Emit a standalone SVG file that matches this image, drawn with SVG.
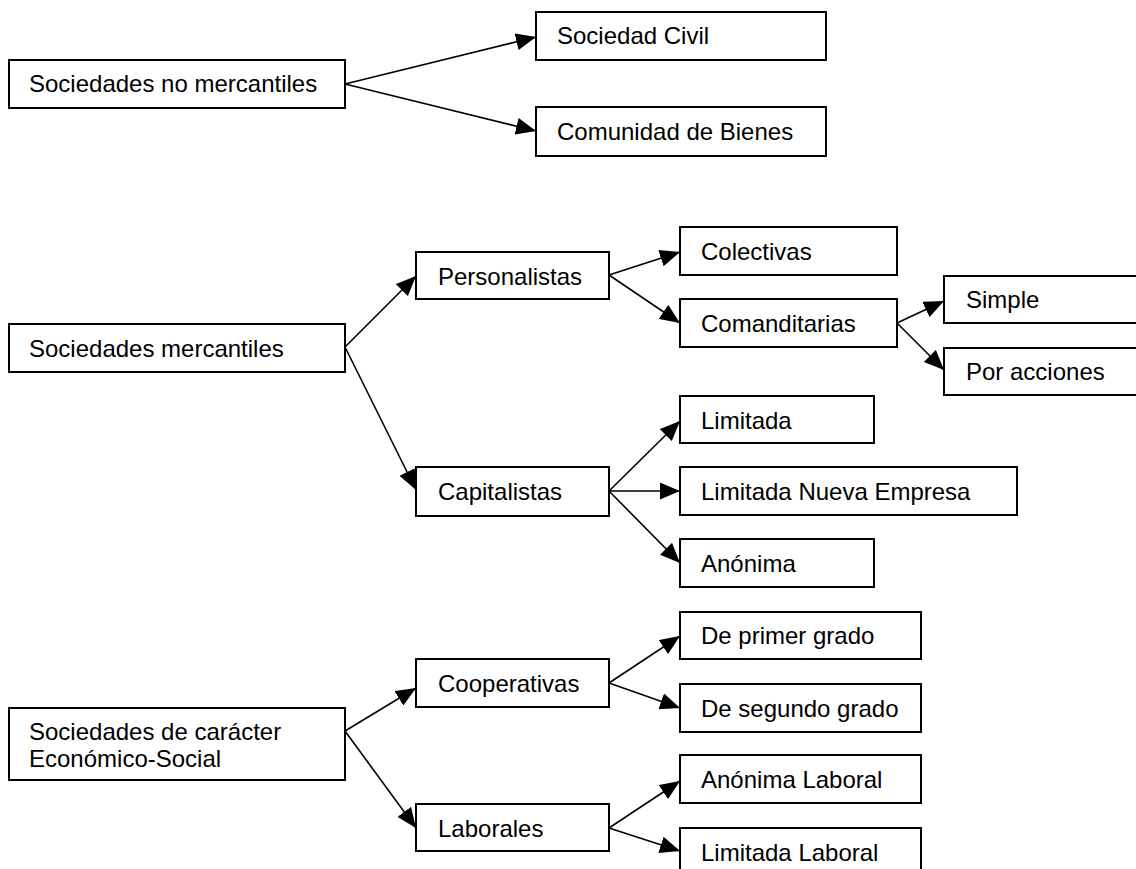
<svg xmlns="http://www.w3.org/2000/svg" width="1136" height="869" viewBox="0 0 1136 869">
<style>
.box{fill:#fff;stroke:#000;stroke-width:2}
.lbl{font-family:"Liberation Sans",Arial,sans-serif;font-size:24px;fill:#000}
.con{stroke:#000;stroke-width:1.6;fill:none;marker-end:url(#ah)}
</style>
<defs>
<marker id="ah" markerUnits="userSpaceOnUse" markerWidth="20" markerHeight="17" refX="20" refY="8.5" orient="auto">
<path d="M0,0 L20,8.5 L0,17 Z" fill="#000"/>
</marker>
</defs>
<rect width="1136" height="869" fill="#fff"/>
<g id="connectors">
<line class="con" x1="345" y1="84" x2="536" y2="37"/>
<line class="con" x1="345" y1="84" x2="536" y2="131"/>
<line class="con" x1="345" y1="347" x2="416" y2="276"/>
<line class="con" x1="345" y1="347" x2="416" y2="490"/>
<line class="con" x1="609" y1="275" x2="680" y2="252"/>
<line class="con" x1="609" y1="275" x2="680" y2="323"/>
<line class="con" x1="897" y1="323" x2="944" y2="301"/>
<line class="con" x1="897" y1="323" x2="944" y2="370"/>
<line class="con" x1="609" y1="491" x2="680" y2="421"/>
<line class="con" x1="609" y1="491" x2="680" y2="491"/>
<line class="con" x1="609" y1="491" x2="680" y2="563"/>
<line class="con" x1="345" y1="731" x2="416" y2="688"/>
<line class="con" x1="345" y1="731" x2="416" y2="828"/>
<line class="con" x1="609" y1="683" x2="680" y2="636"/>
<line class="con" x1="609" y1="683" x2="680" y2="708"/>
<line class="con" x1="609" y1="828" x2="680" y2="781"/>
<line class="con" x1="609" y1="828" x2="680" y2="851"/>
</g>
<g id="n-no-mercantiles"><rect class="box" x="9" y="60" width="336" height="48"/><text class="lbl" x="29" y="92">Sociedades no mercantiles</text></g>
<g id="n-civil"><rect class="box" x="536" y="12" width="290" height="48"/><text class="lbl" x="557" y="44">Sociedad Civil</text></g>
<g id="n-bienes"><rect class="box" x="536" y="107" width="290" height="49"/><text class="lbl" x="557" y="140">Comunidad de Bienes</text></g>
<g id="n-mercantiles"><rect class="box" x="9" y="324" width="336" height="48"/><text class="lbl" x="29" y="357">Sociedades mercantiles</text></g>
<g id="n-personalistas"><rect class="box" x="416" y="252" width="193" height="47"/><text class="lbl" x="438" y="285">Personalistas</text></g>
<g id="n-colectivas"><rect class="box" x="680" y="227" width="217" height="48"/><text class="lbl" x="701" y="260">Colectivas</text></g>
<g id="n-comanditarias"><rect class="box" x="680" y="299" width="217" height="48"/><text class="lbl" x="701" y="332">Comanditarias</text></g>
<g id="n-simple"><rect class="box" x="944" y="276" width="200" height="47"/><text class="lbl" x="966" y="308">Simple</text></g>
<g id="n-por-acciones"><rect class="box" x="944" y="348" width="200" height="47"/><text class="lbl" x="966" y="380">Por acciones</text></g>
<g id="n-capitalistas"><rect class="box" x="416" y="467" width="193" height="49"/><text class="lbl" x="438" y="500">Capitalistas</text></g>
<g id="n-limitada"><rect class="box" x="680" y="396" width="194" height="47"/><text class="lbl" x="701" y="429">Limitada</text></g>
<g id="n-lne"><rect class="box" x="680" y="467" width="337" height="48"/><text class="lbl" x="701" y="500">Limitada Nueva Empresa</text></g>
<g id="n-anonima"><rect class="box" x="680" y="539" width="194" height="48"/><text class="lbl" x="701" y="572">Anónima</text></g>
<g id="n-economico-social"><rect class="box" x="9" y="708" width="336" height="72"/><text class="lbl" x="29" y="740">Sociedades de carácter</text><text class="lbl" x="29" y="767">Económico-Social</text></g>
<g id="n-cooperativas"><rect class="box" x="416" y="659" width="193" height="48"/><text class="lbl" x="438" y="692">Cooperativas</text></g>
<g id="n-laborales"><rect class="box" x="416" y="804" width="193" height="47"/><text class="lbl" x="438" y="837">Laborales</text></g>
<g id="n-primer-grado"><rect class="box" x="680" y="612" width="241" height="47"/><text class="lbl" x="701" y="644">De primer grado</text></g>
<g id="n-segundo-grado"><rect class="box" x="680" y="684" width="241" height="48"/><text class="lbl" x="701" y="717">De segundo grado</text></g>
<g id="n-anonima-laboral"><rect class="box" x="680" y="755" width="241" height="48"/><text class="lbl" x="701" y="788">Anónima Laboral</text></g>
<g id="n-limitada-laboral"><rect class="box" x="680" y="828" width="241" height="48"/><text class="lbl" x="701" y="861">Limitada Laboral</text></g>
</svg>
